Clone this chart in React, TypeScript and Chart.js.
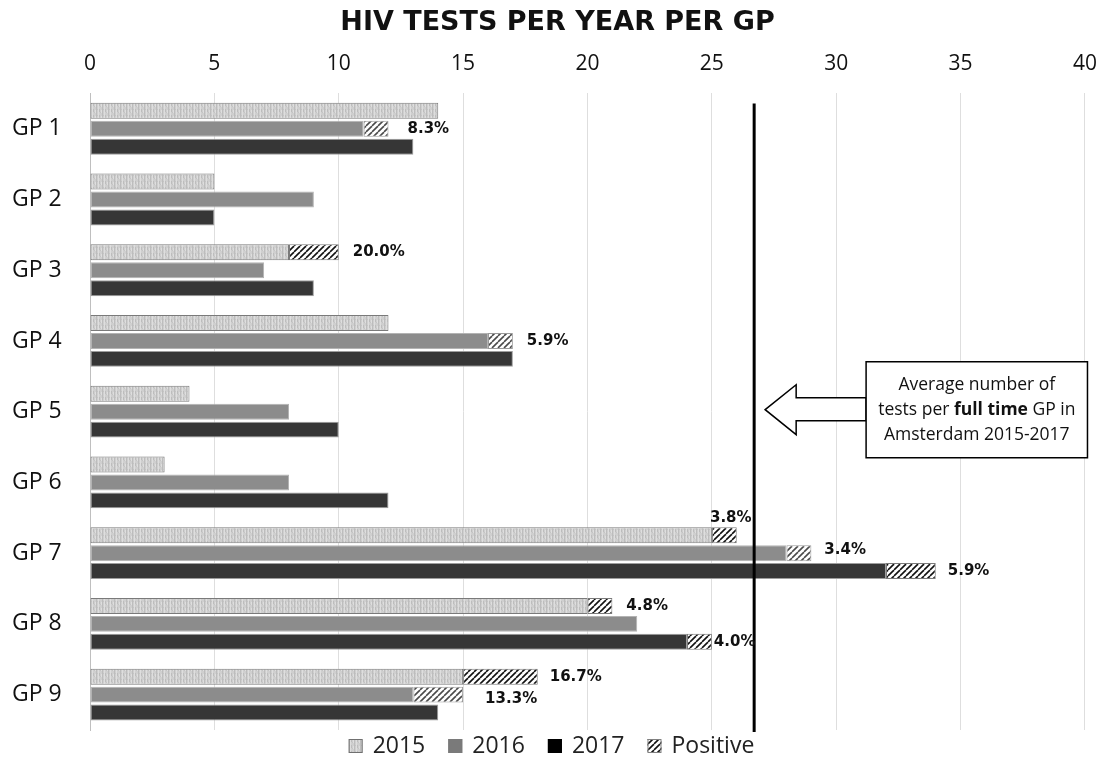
import React, { useEffect, useRef } from 'react';
import { Chart, registerables } from 'chart.js';

Chart.register(...registerables);

// ---------- data ----------
const categories = ['GP 1', 'GP 2', 'GP 3', 'GP 4', 'GP 5', 'GP 6', 'GP 7', 'GP 8', 'GP 9'];
// tests that were negative (bar part without hatch)
const neg2015 = [14, 5, 8, 12, 4, 3, 25, 20, 15];
const neg2016 = [11, 9, 7, 16, 8, 8, 28, 22, 13];
const neg2017 = [13, 5, 9, 17, 10, 12, 32, 24, 14];
// positive tests (hatched part)
const pos2015 = [0, 0, 2, 0, 0, 0, 1, 1, 3];
const pos2016 = [1, 0, 0, 1, 0, 0, 1, 0, 2];
const pos2017 = [0, 0, 0, 0, 0, 0, 2, 1, 0];
// percentage labels
const pct2015 = ['', '', '20.0%', '', '', '', '3.8%', '4.8%', '16.7%'];
const pct2016 = ['8.3%', '', '', '5.9%', '', '', '3.4%', '', '13.3%'];
const pct2017 = ['', '', '', '', '', '', '5.9%', '4.0%', ''];
const xMin = 0;
const xMax = 40;
const xStep = 5;
const averageFullTime = 26.7;
const titleText = 'HIV TESTS PER YEAR PER GP';
const legendLabels = ['2015', '2016', '2017', 'Positive'];
const noteLines = ['Average number of', 'tests per |full time| GP in', 'Amsterdam 2015-2017'];

// label placement tweaks (style only), key: `${category}-${yearIndex}`
const labelAdjust: Record<string, { dx?: number; dy?: number; above?: boolean }> = {
  '0-1': { dx: 19 },
  '6-0': { above: true },
  '6-1': { dx: 13, dy: -3 },
  '6-2': { dx: 12 },
  '7-2': { dx: 2 },
  '8-0': { dx: 12 },
  '8-1': { dx: 22, dy: 4 },
};

const FONT = '"Open Sans"';

function makePattern(size: number, draw: (c: CanvasRenderingContext2D, s: number) => void) {
  const cv = document.createElement('canvas');
  cv.width = size;
  cv.height = size;
  const c = cv.getContext('2d')!;
  draw(c, size);
  return c.createPattern(cv, 'repeat')!;
}

export default function App() {
  const ref = useRef<HTMLCanvasElement | null>(null);

  useEffect(() => {
    if (!ref.current) return;
    const texture = makePattern(6, (c, s) => {
      c.fillStyle = '#cfcfcf';
      c.fillRect(0, 0, s, s);
      c.fillStyle = '#bdbdbd';
      c.fillRect(0, 0, 1, s);
      c.fillRect(3, 1, 1, 3);
      c.fillStyle = '#dedede';
      c.fillRect(2, 0, 1, s);
      c.fillRect(5, 2, 1, 3);
      c.fillStyle = '#c4c4c4';
      c.fillRect(1, 1, 1, 1);
      c.fillRect(4, 4, 1, 1);
    });
    const hatch = (color: string) =>
      makePattern(6, (c, s) => {
        c.fillStyle = '#ffffff';
        c.fillRect(0, 0, s, s);
        c.strokeStyle = color;
        c.lineWidth = 1.6;
        for (const o of [-s, 0, s]) {
          c.beginPath();
          c.moveTo(o, s);
          c.lineTo(o + s, 0);
          c.stroke();
        }
      });
    const hatchDark = hatch('#111111');
    const hatchGray = hatch('#4a4a4a');

    const overlay = {
      id: 'overlay',
      afterDatasetsDraw(chart: any) {
        const { ctx, chartArea, scales } = chart;
        const x = scales.x;
        const vx = x.getPixelForValue(averageFullTime);
        ctx.save();
        ctx.strokeStyle = '#000';
        ctx.lineWidth = 3;
        ctx.beginPath();
        ctx.moveTo(vx, chartArea.top + 10);
        ctx.lineTo(vx, chartArea.bottom + 2);
        ctx.stroke();

        ctx.font = 'bold 15px "DejaVu Sans"';
        ctx.fillStyle = '#111';
        ctx.textBaseline = 'middle';
        const sets: [number, string[]][] = [[1, pct2015], [3, pct2016], [5, pct2017]];
        sets.forEach(([di, arr], k) => {
          const meta = chart.getDatasetMeta(di);
          arr.forEach((t, i) => {
            if (!t) return;
            const el: any = meta.data[i];
            const adj = labelAdjust[`${i}-${k}`] || {};
            if (adj.above) {
              ctx.textAlign = 'center';
              ctx.fillText(t, el.x - 6, el.y - el.height / 2 - 9);
            } else {
              ctx.textAlign = 'left';
              ctx.fillText(t, el.x + (adj.dx ?? 14), el.y + (adj.dy ?? 0));
            }
          });
        });
        ctx.restore();
      },
      afterDraw(chart: any) {
        const { ctx, scales, width } = chart;
        const x = scales.x;
        const y = scales.y;
        ctx.save();
        const cy = y.getPixelForValue(4) - 2;
        const tipX = x.getPixelForValue(averageFullTime) + 11;
        const headX = tipX + 31;
        const boxL = x.getPixelForValue(31.2);
        const boxR = x.getPixelForValue(40.1);
        ctx.lineWidth = 1.5;
        ctx.strokeStyle = '#000';
        ctx.fillStyle = '#fff';
        ctx.beginPath();
        ctx.moveTo(tipX, cy);
        ctx.lineTo(headX, cy - 25);
        ctx.lineTo(headX, cy - 12);
        ctx.lineTo(boxL, cy - 12);
        ctx.lineTo(boxL, cy + 11);
        ctx.lineTo(headX, cy + 11);
        ctx.lineTo(headX, cy + 25);
        ctx.closePath();
        ctx.fill();
        ctx.stroke();
        ctx.beginPath();
        ctx.rect(boxL, cy - 48, boxR - boxL, 96);
        ctx.fill();
        ctx.stroke();
        ctx.fillStyle = '#111';
        ctx.textBaseline = 'middle';
        const midX = (boxL + boxR) / 2;
        noteLines.forEach((line, li) => {
          const parts = line.split('|');
          const fonts = parts.map((_, pi) => (pi % 2 === 1 ? `bold 17.5px ${FONT}` : `17.5px ${FONT}`));
          let total = 0;
          parts.forEach((p, pi) => {
            ctx.font = fonts[pi];
            total += ctx.measureText(p).width;
          });
          let px = midX - total / 2;
          ctx.textAlign = 'left';
          parts.forEach((p, pi) => {
            ctx.font = fonts[pi];
            ctx.fillText(p, px, cy - 25 + li * 25);
            px += ctx.measureText(p).width;
          });
        });

        const swatches: [any, string][] = [
          [texture, '#707070'],
          ['#7a7a7a', '#7a7a7a'],
          ['#000000', '#000000'],
          [hatchDark, '#808080'],
        ];
        ctx.font = `23px ${FONT}`;
        const box = 14;
        const gapBox = 10;
        const gapItem = 23;
        let tw = 0;
        legendLabels.forEach((l, i) => {
          tw += box + gapBox + ctx.measureText(l).width + (i < legendLabels.length - 1 ? gapItem : 0);
        });
        let lx = width / 2 - tw / 2;
        const ly = 746;
        legendLabels.forEach((l, i) => {
          ctx.fillStyle = swatches[i][0];
          ctx.fillRect(lx, ly - 7, box, box);
          ctx.strokeStyle = swatches[i][1];
          ctx.lineWidth = 1;
          ctx.strokeRect(lx + 0.5, ly - 6.5, box - 1, box - 1);
          ctx.fillStyle = '#222';
          ctx.textAlign = 'left';
          ctx.fillText(l, lx + box + gapBox, ly);
          lx += box + gapBox + ctx.measureText(l).width + gapItem;
        });
        ctx.restore();
      },
    };

    const barCommon = { borderWidth: 1, barPercentage: 0.89, categoryPercentage: 0.76, borderSkipped: false };
    const chart = new Chart(ref.current, {
      type: 'bar',
      data: {
        labels: categories,
        datasets: [
          { label: '2015', data: neg2015, stack: 's2015', backgroundColor: texture, borderColor: '#7a7a7a', ...barCommon },
          { label: '2015 positive', data: pos2015, stack: 's2015', backgroundColor: hatchDark, borderColor: '#7a7a7a', ...barCommon },
          { label: '2016', data: neg2016, stack: 's2016', backgroundColor: '#8c8c8c', borderColor: '#b3b3b3', ...barCommon },
          { label: '2016 positive', data: pos2016, stack: 's2016', backgroundColor: hatchGray, borderColor: '#9a9a9a', ...barCommon },
          { label: '2017', data: neg2017, stack: 's2017', backgroundColor: '#363636', borderColor: '#9d9d9d', ...barCommon },
          { label: '2017 positive', data: pos2017, stack: 's2017', backgroundColor: hatchDark, borderColor: '#7a7a7a', ...barCommon },
        ] as any,
      },
      options: {
        indexAxis: 'y',
        animation: false,
        responsive: true,
        maintainAspectRatio: false,
        layout: { padding: { left: 12, right: 0, top: 0, bottom: 28 } },
        plugins: {
          legend: { display: false },
          tooltip: { enabled: false },
          title: {
            display: true,
            text: titleText,
            color: '#111',
            font: { family: '"DejaVu Sans"', size: 27, weight: 'bold', lineHeight: 1.2 },
            padding: { top: 7, bottom: 0 },
          },
        },
        scales: {
          x: {
            position: 'top',
            stacked: true,
            min: xMin,
            max: xMax,
            ticks: { stepSize: xStep, color: '#111', font: { family: FONT, size: 21, lineHeight: 2.24 }, padding: 6, maxRotation: 0 },
            grid: { color: '#dedede', drawTicks: false },
            border: { display: false },
            afterFit: (scale: any) => {
              scale.height = 54;
            },
          },
          y: {
            stacked: true,
            ticks: { color: '#111', font: { family: FONT, size: 23 }, padding: 4, crossAlign: 'far' },
            grid: { display: false },
            border: { display: true, color: '#bfbfbf' },
            afterFit: (scale: any) => {
              scale.width = 78;
            },
          },
        },
      },
      plugins: [overlay],
    } as any);
    return () => chart.destroy();
  }, []);

  return (
    <div style={{ position: 'absolute', left: 0, top: 0, width: 1103, height: 758, background: '#fff' }}>
      <canvas ref={ref} />
    </div>
  );
}
